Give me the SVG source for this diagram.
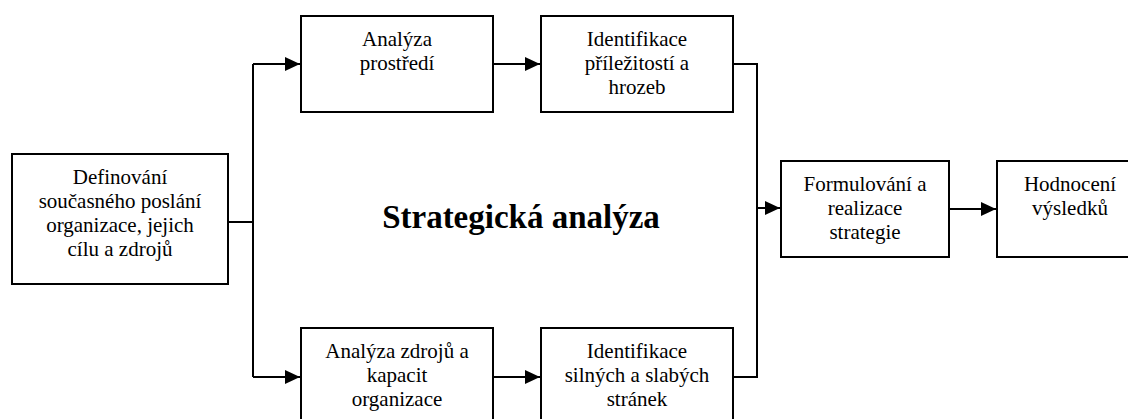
<svg xmlns="http://www.w3.org/2000/svg" width="1128" height="419" viewBox="0 0 1128 419">
<style>
.box{fill:#fff;stroke:#000;stroke-width:2}
.t{font-family:"Liberation Serif","Times New Roman",serif;font-size:21px;text-anchor:middle;fill:#000}
.title{font-family:"Liberation Serif","Times New Roman",serif;font-size:33px;font-weight:bold;text-anchor:middle;fill:#000}
.ln{fill:none;stroke:#000;stroke-width:2}
</style>
<defs>
<marker id="ah" markerUnits="userSpaceOnUse" markerWidth="16" markerHeight="14" refX="15" refY="7" orient="auto">
<path d="M0,0 L15,7 L0,14 Z" fill="#000"/>
</marker>
</defs>
<rect width="1128" height="419" fill="#fff"/>
<g id="connectors">
<path class="ln" d="M228,222 H253"/>
<path class="ln" d="M253,64 V377"/>
<path class="ln" d="M253,64 H300" marker-end="url(#ah)"/>
<path class="ln" d="M253,377 H300" marker-end="url(#ah)"/>
<path class="ln" d="M493,64 H540" marker-end="url(#ah)"/>
<path class="ln" d="M493,377 H540" marker-end="url(#ah)"/>
<path class="ln" d="M733,64 H757 V377 H733"/>
<path class="ln" d="M757,208 H780" marker-end="url(#ah)"/>
<path class="ln" d="M949,209 H996" marker-end="url(#ah)"/>
</g>
<g id="n-definovani">
<rect class="box" x="12" y="154" width="216" height="130"/>
<text class="t"><tspan x="120" y="184">Definování</tspan><tspan x="120" y="208">současného poslání</tspan><tspan x="120" y="232">organizace, jejich</tspan><tspan x="120" y="256">cílu a zdrojů</tspan></text>
</g>
<g id="n-analyza-prostredi">
<rect class="box" x="301" y="16" width="192" height="96"/>
<text class="t"><tspan x="397" y="46">Analýza</tspan><tspan x="397" y="70">prostředí</tspan></text>
</g>
<g id="n-identifikace-prilezitosti">
<rect class="box" x="541" y="16" width="192" height="96"/>
<text class="t"><tspan x="637" y="46">Identifikace</tspan><tspan x="637" y="70">příležitostí a</tspan><tspan x="637" y="94">hrozeb</tspan></text>
</g>
<g id="n-analyza-zdroju">
<rect class="box" x="301" y="328" width="192" height="100"/>
<text class="t"><tspan x="397" y="358">Analýza zdrojů a</tspan><tspan x="397" y="382">kapacit</tspan><tspan x="397" y="406">organizace</tspan></text>
</g>
<g id="n-identifikace-silnych">
<rect class="box" x="541" y="328" width="192" height="100"/>
<text class="t"><tspan x="637" y="358">Identifikace</tspan><tspan x="637" y="382">silných a slabých</tspan><tspan x="637" y="406">stránek</tspan></text>
</g>
<g id="n-formulovani">
<rect class="box" x="781" y="161" width="168" height="96"/>
<text class="t"><tspan x="865" y="191">Formulování a</tspan><tspan x="865" y="215">realizace</tspan><tspan x="865" y="239">strategie</tspan></text>
</g>
<g id="n-hodnoceni">
<rect class="box" x="997" y="161" width="146" height="96"/>
<text class="t"><tspan x="1070" y="191">Hodnocení</tspan><tspan x="1070" y="215">výsledků</tspan></text>
</g>
<g id="title">
<text class="title" x="521" y="228">Strategická analýza</text>
</g>
</svg>
